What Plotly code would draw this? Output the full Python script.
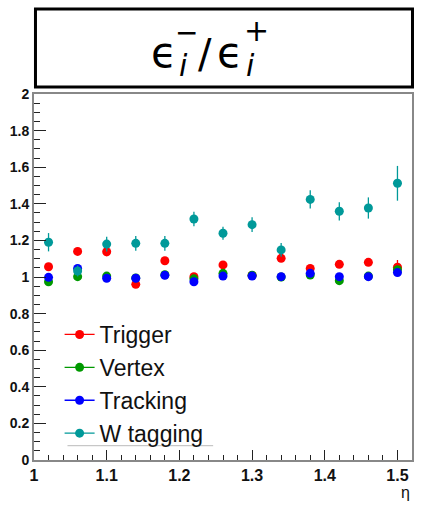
import plotly.graph_objects as go

eta = [1.02, 1.06, 1.10, 1.14, 1.18, 1.22, 1.26, 1.30, 1.34, 1.38, 1.42, 1.46, 1.50]

trigger = [1.056, 1.140, 1.138, 0.960, 1.089, 1.002, 1.066, 1.008, 1.102, 1.047, 1.069, 1.080, 1.053]
trigger_err = [0.02, 0.02, 0.025, 0.02, 0.02, 0.02, 0.02, 0.02, 0.02, 0.02, 0.02, 0.02, 0.04]

vertex = [0.974, 1.002, 1.005, 0.995, 1.012, 0.990, 1.020, 1.010, 1.000, 1.011, 0.980, 1.005, 1.040]
vertex_err = [0.015] * 13

tracking = [0.998, 1.047, 0.993, 0.993, 1.009, 0.974, 1.005, 1.005, 1.002, 1.020, 1.002, 1.002, 1.024]
tracking_err = [0.015] * 13

wtag = [1.190, 1.033, 1.180, 1.184, 1.184, 1.317, 1.239, 1.286, 1.148, 1.424, 1.359, 1.377, 1.512]
wtag_err = [0.05, 0.03, 0.04, 0.04, 0.04, 0.04, 0.036, 0.04, 0.038, 0.05, 0.05, 0.058, 0.095]

series = [
    ("Trigger", trigger, trigger_err, "#ff0000"),
    ("Vertex", vertex, vertex_err, "#009900"),
    ("Tracking", tracking, tracking_err, "#0000ff"),
    ("W tagging", wtag, wtag_err, "#009999"),
]

fig = go.Figure()
for name, ys, errs, col in series:
    fig.add_trace(go.Scatter(
        x=eta, y=ys, mode="markers", name=name, showlegend=False,
        marker=dict(color=col, size=9, symbol="circle", line=dict(width=0)),
        error_y=dict(type="data", array=errs, visible=True, color=col, thickness=1.3, width=0),
    ))
for name, ys, errs, col in series:
    fig.add_trace(go.Scatter(
        x=[None], y=[None], mode="lines+markers", name=name, showlegend=True,
        marker=dict(color=col, size=9, symbol="circle"),
        line=dict(color=col, width=1.3),
    ))

W, H = 424, 506
L, R, T, B = 30, 10, 94, 46
pw, ph = W - L - R, H - T - B

def px(x):
    return (x - L) / pw

def py(y):
    return (H - B - y) / ph

axis_common = dict(
    showgrid=False, zeroline=False, showline=True, linecolor="#888888", linewidth=2,
    mirror=True, ticks="inside", tickcolor="#222222", tickwidth=1,
    tickfont=dict(family="Liberation Sans", weight="bold", color="#111111"),
)

fig.update_xaxes(
    range=[1.0, 1.52], dtick=0.1, tick0=1.0, ticklen=10,
    minor=dict(dtick=0.02, tick0=1.0, ticks="inside", ticklen=5, tickcolor="#222222", tickwidth=1),
    **axis_common,
)
fig.update_xaxes(tickfont_size=16)
fig.update_yaxes(
    range=[0, 2], dtick=0.2, tick0=0, ticklen=12,
    minor=dict(dtick=0.05, tick0=0, ticks="inside", ticklen=6, tickcolor="#222222", tickwidth=1),
    **axis_common,
)
fig.update_yaxes(tickfont_size=14)

shapes = [
    dict(type="rect", xref="paper", yref="paper", x0=px(31.5), x1=px(414.5), y0=py(87), y1=py(9),
         line=dict(color="black", width=3), fillcolor="white"),
    dict(type="line", xref="paper", yref="paper", x0=px(64), x1=px(212), y0=py(445.7), y1=py(445.7),
         line=dict(color="#bbbbbb", width=1)),
]

tf = "DejaVu Sans"
annos = [
    dict(text="ϵ", x=px(162), y=py(52), size=42, italic=False),
    dict(text="i", x=px(182), y=py(66), size=30, italic=True),
    dict(text="−", x=px(185), y=py(32), size=28, italic=False),
    dict(text="/", x=px(204), y=py(54), size=40, italic=False),
    dict(text="ϵ", x=px(229), y=py(52), size=42, italic=False),
    dict(text="i", x=px(250), y=py(66), size=30, italic=True),
    dict(text="+", x=px(256), y=py(31), size=30, italic=False),
]
annotations = []
for a in annos:
    t = a["text"]
    if a["italic"]:
        t = "<i>" + t + "</i>"
    annotations.append(dict(
        text=t, x=a["x"], y=a["y"], xref="paper", yref="paper",
        xanchor="center", yanchor="middle", showarrow=False,
        font=dict(family=tf, size=a["size"], color="black"),
    ))
annotations.append(dict(
    text="η", x=px(407), y=py(492), xref="paper", yref="paper",
    xanchor="center", yanchor="middle", showarrow=False,
    font=dict(family="Liberation Sans", size=16, color="#111111"),
))

fig.update_layout(
    width=W, height=H,
    margin=dict(l=L, r=R, t=T, b=B, pad=0),
    paper_bgcolor="white", plot_bgcolor="white",
    shapes=shapes, annotations=annotations,
    legend=dict(
        x=px(56), y=py(313), xanchor="left", yanchor="top",
        font=dict(family="Liberation Sans", size=23, color="#111111"),
        bgcolor="rgba(0,0,0,0)", borderwidth=0, tracegroupgap=0,
        itemwidth=30,
    ),
    showlegend=True,
)

fig.write_html("out.html")
